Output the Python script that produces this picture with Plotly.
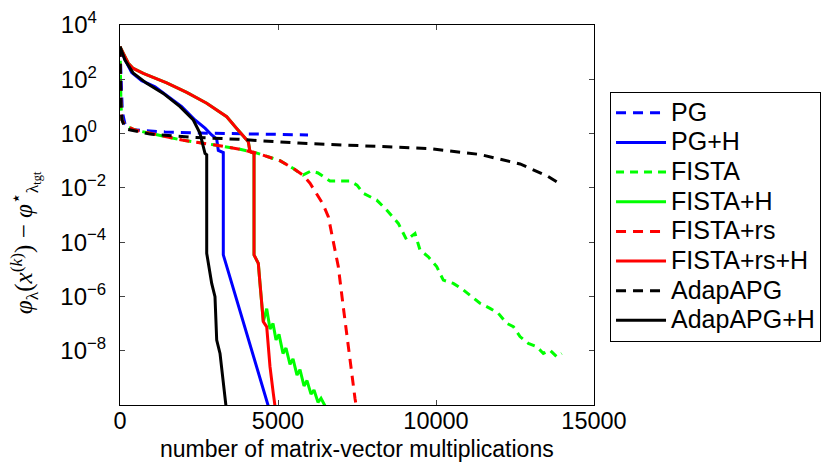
import numpy as np
import plotly.graph_objects as go

# ---- data: x = number of matrix-vector multiplications, y = log10 of objective gap ----
pg_x = [0, 32, 73, 158, 316, 633, 1424, 2532, 3260, 4430, 5950]
pg_log = [3.2, 2.0, 0.8, 0.35, 0.15, 0.12, 0.06, 0.02, 0.0, -0.02, -0.05]

pgh_x = [0, 158, 370, 687, 1108, 1529, 1953, 2373, 2690, 2902, 3060, 3111, 3269, 3269, 4693]
pgh_log = [3.2, 2.72, 2.25, 1.95, 1.72, 1.36, 0.99, 0.5, 0.2, -0.05, -0.2, -0.62, -0.7, -4.47, -10.04]

fista_x = [0, 16, 32, 63, 158, 475, 1203, 1962, 3006, 3798, 4335, 5063, 5475, 5791, 6044, 6266,
           6646, 7278, 7500, 7700, 8123, 8440, 8807, 9073, 9335, 9494, 9757, 10022, 10231, 10548,
           10864, 11130, 11392, 11709, 11972, 12237, 12447, 12658, 12921, 13187, 13396, 13608,
           13820, 13978]
fista_log = [3.2, 2.0, 1.0, 0.5, 0.3, 0.13, -0.05, -0.24, -0.42, -0.58, -0.72, -1.0, -1.28, -1.53,
             -1.38, -1.45, -1.75, -1.75, -1.9, -2.2, -2.45, -2.82, -3.31, -3.92, -3.68, -4.29,
             -4.54, -4.9, -5.4, -5.52, -5.76, -6.01, -6.25, -6.44, -6.62, -6.99, -7.11, -7.48,
             -7.73, -7.85, -8.1, -7.98, -8.22, -8.1]

fistah_x = [0, 263, 421, 737, 1478, 2111, 2744, 3377, 3693, 3902, 4060, 4114, 4241, 4241, 4377,
            4430, 4535, 4643, 4747, 4842, 4937, 5032, 5158, 5253, 5380, 5475, 5601, 5696, 5823,
            5918, 6044, 6139, 6266, 6361, 6541]
fistah_log = [3.2, 2.59, 2.4, 2.22, 1.87, 1.52, 1.12, 0.62, 0.19, -0.1, -0.3, -0.67, -0.73, -4.47,
              -4.78, -5.52, -6.93, -6.45, -7.2, -7.0, -7.6, -7.4, -8.1, -7.9, -8.5, -8.3, -8.9,
              -8.7, -9.3, -9.1, -9.6, -9.45, -9.9, -9.75, -10.15]

fistars_x = [0, 16, 32, 63, 158, 475, 1203, 1962, 3006, 3798, 4335, 5063, 5475, 5791, 6013, 6275,
             6424, 6592, 6750, 6908, 7067, 7215, 7332, 7437, 7500]
fistars_log = [3.2, 2.0, 1.0, 0.5, 0.3, 0.13, -0.05, -0.24, -0.42, -0.58, -0.72, -1.0, -1.28, -1.53,
               -1.83, -2.33, -2.6, -3.06, -3.92, -4.9, -6.4, -7.8, -8.9, -9.76, -10.2]

fistarsh_x = [0, 263, 421, 737, 1478, 2111, 2744, 3377, 3693, 3902, 4060, 4114, 4241, 4241, 4377,
              4430, 4535, 4643, 4747, 4851, 4905]
fistarsh_log = [3.2, 2.59, 2.4, 2.22, 1.87, 1.52, 1.12, 0.62, 0.19, -0.1, -0.3, -0.67, -0.73, -4.47,
                -4.78, -5.52, -6.93, -7.12, -8.59, -9.57, -10.04]

adap_x = [0, 16, 32, 63, 127, 253, 633, 950, 2374, 3735, 5634, 7438, 9750, 11394, 11932, 12660,
          13514, 13990]
adap_log = [3.2, 2.0, 1.0, 0.5, 0.3, 0.15, 0.05, -0.02, -0.14, -0.21, -0.35, -0.43, -0.55, -0.77,
            -0.93, -1.12, -1.56, -1.9]

adaph_x = [0, 158, 421, 845, 1370, 1899, 2320, 2532, 2585, 2690, 2744, 2744, 2902, 3006, 3060,
           3165, 3354]
adaph_log = [3.2, 2.71, 2.22, 1.85, 1.48, 0.99, 0.5, 0.01, -0.24, -0.73, -0.78, -4.41, -5.52,
             -6.01, -7.61, -8.1, -10.04]

names = ["PG", "PG+H", "FISTA", "FISTA+H", "FISTA+rs", "FISTA+rs+H", "AdapAPG", "AdapAPG+H"]
xs = [pg_x, pgh_x, fista_x, fistah_x, fistars_x, fistarsh_x, adap_x, adaph_x]
ys = [pg_log, pgh_log, fista_log, fistah_log, fistars_log, fistarsh_log, adap_log, adaph_log]
colors = ["#0000ff", "#0000ff", "#00ff00", "#00ff00", "#ff0000", "#ff0000", "#000000", "#000000"]
dashes = ["10px,7px", "solid", "8px,6px", "solid", "10px,7px", "solid", "10px,7px", "solid"]

ytick_vals = [1e-8, 1e-6, 1e-4, 1e-2, 1e0, 1e2, 1e4]
ytick_text = ["10<sup>\u22128</sup>", "10<sup>\u22126</sup>", "10<sup>\u22124</sup>",
              "10<sup>\u22122</sup>", "10<sup>0\u2007</sup>", "10<sup>2\u2007</sup>",
              "10<sup>4\u2007</sup>"]
xtick_vals = [0, 5000, 10000, 15000]
xtick_text = ["0", "5000", "10000", "15000"]

fig = go.Figure()
for n, x, y, c, d in zip(names, xs, ys, colors, dashes):
    fig.add_trace(go.Scatter(x=x, y=np.power(10.0, np.array(y)), mode="lines",
                             name='<span style="font-size:25px">' + n + '</span>',
                             line=dict(color=c, width=3, dash=d)))

sans = "Liberation Sans, Arial, sans-serif"
fig.update_layout(
    width=822, height=464,
    margin=dict(l=120, r=228, t=25, b=59, autoexpand=False),
    paper_bgcolor="white", plot_bgcolor="white",
    font=dict(family=sans, size=24, color="black"),
    showlegend=True,
    legend=dict(x=1.0338, y=0.8237, xanchor="left", yanchor="top",
                bordercolor="black", borderwidth=1, bgcolor="white", itemwidth=50,
                font=dict(family=sans, size=20.5, color="black"), tracegroupgap=0),
)
fig.update_xaxes(range=[0, 15000], tickvals=xtick_vals, ticktext=xtick_text, ticks="inside",
                 ticklen=5, showline=True, linecolor="black", linewidth=1, mirror="ticks",
                 showgrid=False, zeroline=False, tickfont=dict(size=23.5), ticklabelstandoff=-5)
fig.update_yaxes(type="log", range=[-10, 4], tickvals=ytick_vals, ticktext=ytick_text,
                 ticks="inside", ticklen=5, showline=True, linecolor="black", linewidth=1,
                 mirror="ticks", showgrid=False, zeroline=False, tickfont=dict(size=24),
                 ticklabelstandoff=8)

fig.add_annotation(text="number of matrix-vector multiplications", xref="paper", yref="paper",
                   x=0.5, y=-0.117, xanchor="center", yanchor="middle", showarrow=False,
                   font=dict(family=sans, size=23))
fig.add_annotation(text="<i>\u03c6</i><sub>\u03bb</sub>(<i>x</i><sup>(<i>k</i>)</sup>) \u2212 "
                        "<i>\u03c6</i><sup>\u22c6</sup><sub>\u03bb<sub>tgt</sub></sub>",
                   xref="paper", yref="paper", x=-0.2004, y=0.426, xanchor="center",
                   yanchor="middle", textangle=-90, showarrow=False,
                   font=dict(family="Liberation Serif, serif", size=25))

fig.write_html("out.html")
